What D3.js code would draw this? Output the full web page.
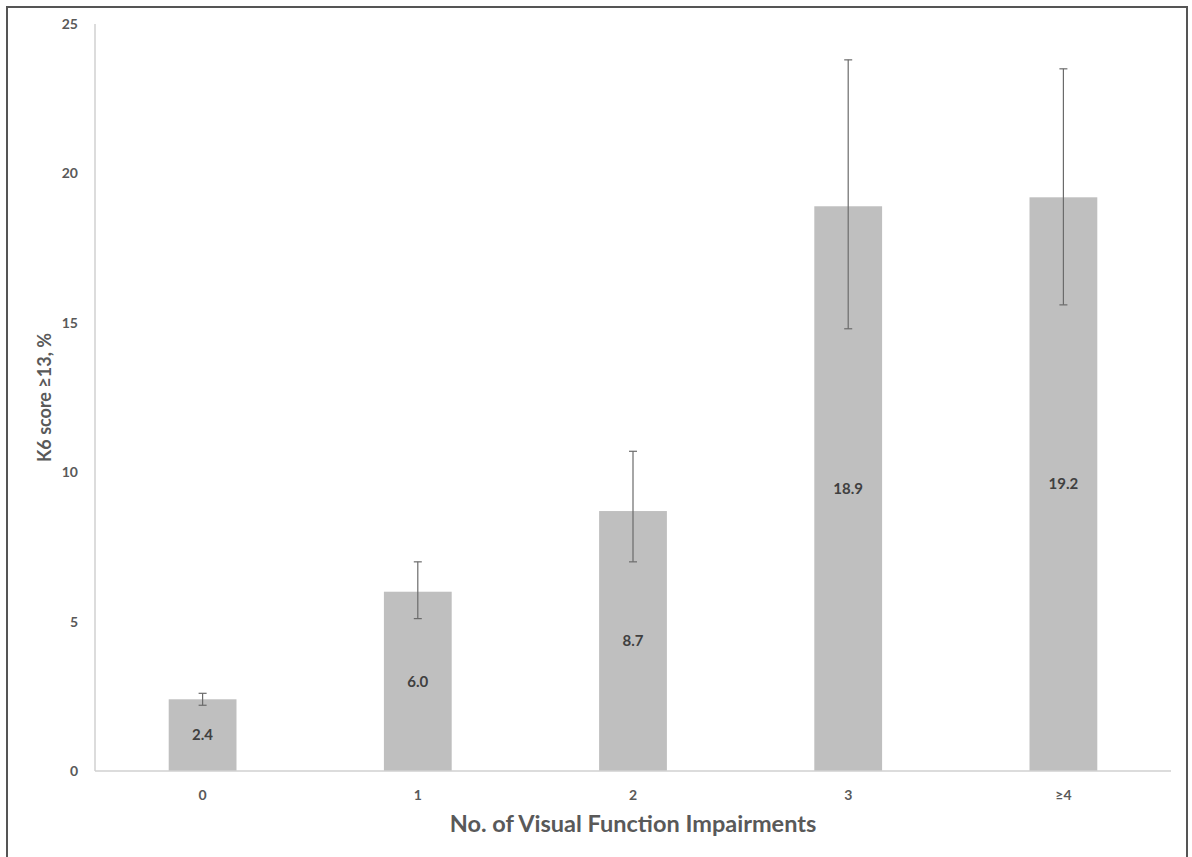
<!DOCTYPE html>
<html>
<head>
<meta charset="utf-8">
<script src="https://cdn.jsdelivr.net/npm/d3@7"></script>
<style>
  body { margin: 0; background: #fff; }
  text { font-family: Lato, "Open Sans", sans-serif; font-weight: bold; }
</style>
</head>
<body>
<div id="chart"></div>
<script>
const width = 1192, height = 857;

// data
const categories = ["0", "1", "2", "3", "\u22654"];
const values = [2.4, 6.0, 8.7, 18.9, 19.2];
const ciLow = [2.2, 5.1, 7.0, 14.8, 15.6];
const ciHigh = [2.6, 7.0, 10.7, 23.8, 23.5];
const yTicks = [0, 5, 10, 15, 20, 25];

const margin = { left: 95, right: 21, top: 24, bottom: 86 };

const svg = d3.select("#chart")
	.append("svg")
	.attr("width", width)
	.attr("height", height);

// outer frame (bottom edge runs off the picture)
svg.append("rect")
	.attr("x", 7)
	.attr("y", 7)
	.attr("width", 1180)
	.attr("height", 870)
	.attr("fill", "none")
	.attr("stroke", "#555")
	.attr("stroke-width", 2);

const x = d3.scaleBand()
	.domain(categories)
	.range([margin.left, width - margin.right])
	.paddingInner(0.685)
	.paddingOuter(0.3425);

const y = d3.scaleLinear()
	.domain([0, 25])
	.range([height - margin.bottom, margin.top]);

const rows = categories.map((c, i) => ({ cat: c, v: values[i], lo: ciLow[i], hi: ciHigh[i] }));

// bars
svg.selectAll(".bar")
	.data(rows)
	.enter()
	.append("rect")
	.classed("bar", true)
	.attr("x", d => x(d.cat))
	.attr("y", d => y(d.v))
	.attr("width", x.bandwidth())
	.attr("height", d => y(0) - y(d.v))
	.attr("fill", "#bfbfbf");

// axes lines
svg.append("line")
	.attr("x1", margin.left).attr("x2", margin.left)
	.attr("y1", y(25)).attr("y2", y(0))
	.attr("stroke", "#d0d0d0").attr("stroke-width", 1.5);

svg.append("line")
	.attr("x1", margin.left).attr("x2", width - margin.right)
	.attr("y1", y(0)).attr("y2", y(0))
	.attr("stroke", "#d0d0d0").attr("stroke-width", 1.5);

// error bars
const err = svg.selectAll(".err")
	.data(rows)
	.enter()
	.append("g")
	.classed("err", true)
	.attr("stroke", "#6b6b6b")
	.attr("stroke-width", 1.2);

err.append("line")
	.attr("x1", d => x(d.cat) + x.bandwidth() / 2)
	.attr("x2", d => x(d.cat) + x.bandwidth() / 2)
	.attr("y1", d => y(d.hi))
	.attr("y2", d => y(d.lo));

err.append("line")
	.attr("x1", d => x(d.cat) + x.bandwidth() / 2 - 4)
	.attr("x2", d => x(d.cat) + x.bandwidth() / 2 + 4)
	.attr("y1", d => y(d.hi))
	.attr("y2", d => y(d.hi));

err.append("line")
	.attr("x1", d => x(d.cat) + x.bandwidth() / 2 - 4)
	.attr("x2", d => x(d.cat) + x.bandwidth() / 2 + 4)
	.attr("y1", d => y(d.lo))
	.attr("y2", d => y(d.lo));

// value labels inside bars
svg.selectAll(".val")
	.data(rows)
	.enter()
	.append("text")
	.classed("val", true)
	.attr("x", d => x(d.cat) + x.bandwidth() / 2)
	.attr("y", d => (y(d.v) + y(0)) / 2)
	.attr("dy", "0.35em")
	.attr("text-anchor", "middle")
	.attr("font-size", 15)
	.attr("fill", "#404040")
	.text(d => d.v.toFixed(1));

// y tick labels
svg.selectAll(".ytick")
	.data(yTicks)
	.enter()
	.append("text")
	.classed("ytick", true)
	.attr("x", 78)
	.attr("y", d => y(d))
	.attr("dy", "0.35em")
	.attr("text-anchor", "end")
	.attr("font-size", 14)
	.attr("fill", "#595959")
	.text(d => d);

// x tick labels
svg.selectAll(".xtick")
	.data(categories)
	.enter()
	.append("text")
	.classed("xtick", true)
	.attr("x", d => x(d) + x.bandwidth() / 2)
	.attr("y", 795)
	.attr("dy", "0.35em")
	.attr("text-anchor", "middle")
	.attr("font-size", 14)
	.attr("fill", "#595959")
	.text(d => d);

// axis titles
svg.append("text")
	.attr("x", (margin.left + width - margin.right) / 2)
	.attr("y", 832)
	.attr("text-anchor", "middle")
	.attr("font-size", 23.5)
	.attr("fill", "#595959")
	.text("No. of Visual Function Impairments");

svg.append("text")
	.attr("transform", "translate(51," + (y(0) + y(25)) / 2 + ") rotate(-90)")
	.attr("text-anchor", "middle")
	.attr("font-size", 18)
	.attr("fill", "#595959")
	.text("K6 score \u226513, %");
</script>
</body>
</html>
